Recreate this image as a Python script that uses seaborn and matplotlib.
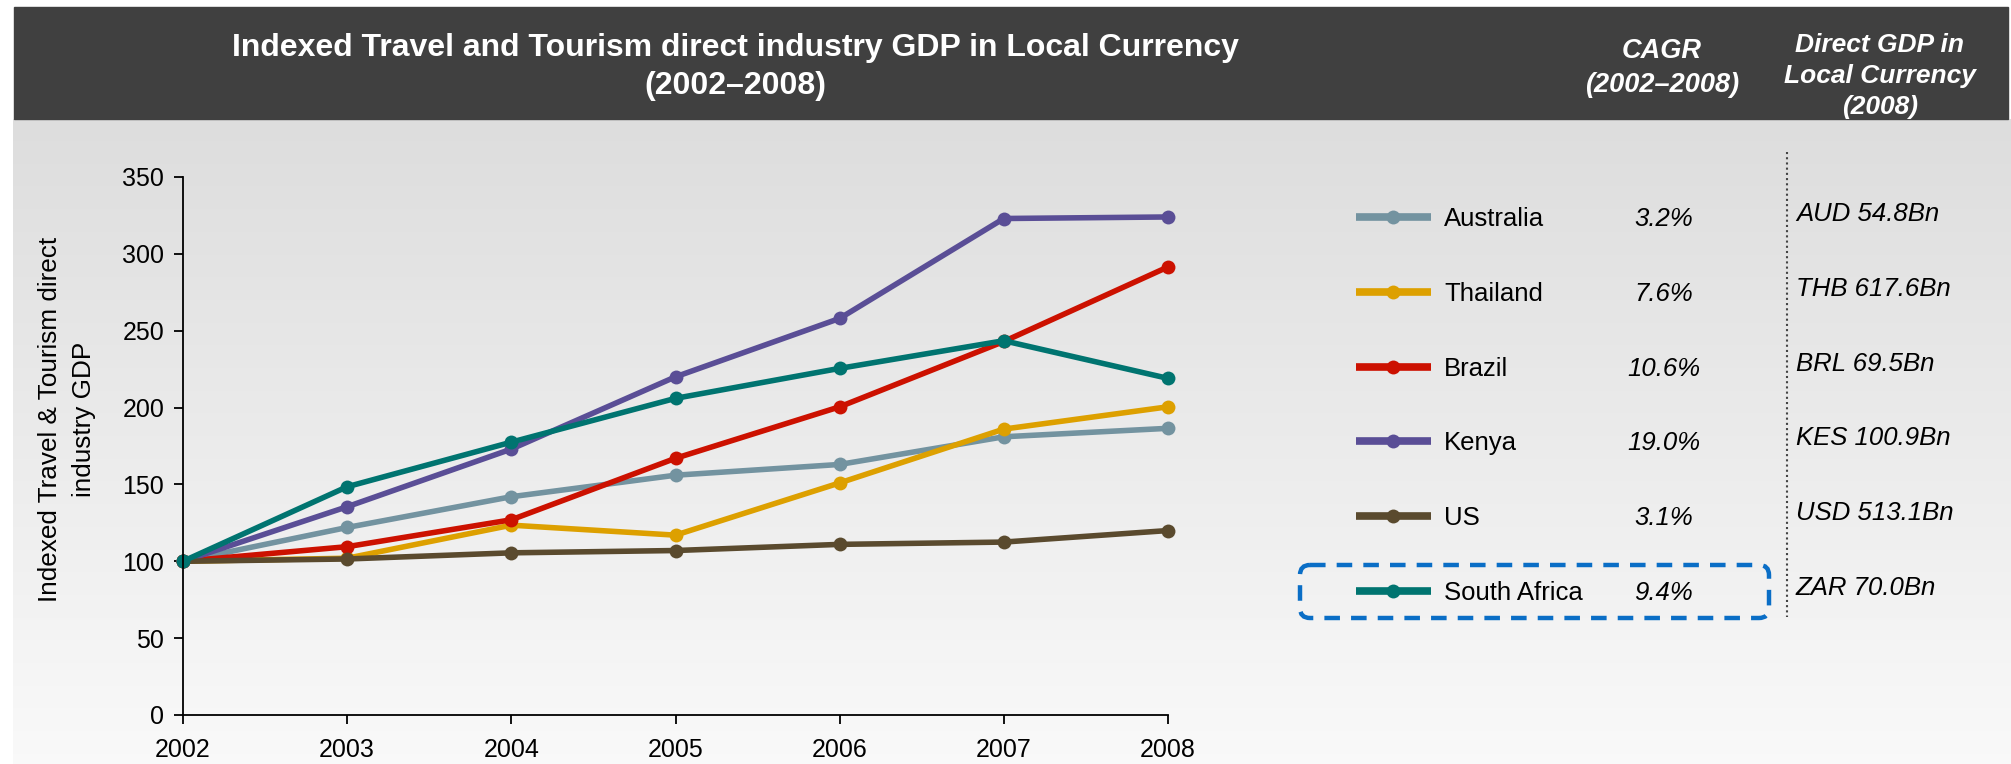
import numpy as np
import pandas as pd
import matplotlib
matplotlib.use("Agg")
import matplotlib.pyplot as plt
import seaborn as sns
from matplotlib.patches import Rectangle, FancyBboxPatch

# data
years = [2002, 2003, 2004, 2005, 2006, 2007, 2008]
countries = ["Australia", "Thailand", "Brazil", "Kenya", "US", "South Africa"]
australia = [100, 122, 142, 156, 163, 181, 186.5]
thailand = [100, 102, 123.5, 117, 151, 186, 200.5]
brazil = [100, 109.5, 127, 167, 200.5, 243, 291.5]
kenya = [100, 135.5, 173, 220, 258, 323, 324]
us = [100, 101.5, 105.5, 107, 111, 112.5, 120]
south_africa = [100, 148.5, 177.5, 206, 225.5, 243.5, 219]
cagr = ["3.2%", "7.6%", "10.6%", "19.0%", "3.1%", "9.4%"]
direct_gdp = ["AUD 54.8Bn", "THB 617.6Bn", "BRL 69.5Bn", "KES 100.9Bn",
              "USD 513.1Bn", "ZAR 70.0Bn"]
colors = ["#7393A0", "#DDA000", "#CC1100", "#5A4E96", "#5A4A2E", "#007470"]

series = [australia, thailand, brazil, kenya, us, south_africa]
df = pd.DataFrame({
    "year": years * len(countries),
    "value": [v for s in series for v in s],
    "country": [c for c in countries for _ in years],
})

sns.set_theme(style="white")
plt.rcParams["font.family"] = ["Liberation Sans", "DejaVu Sans"]

W, H = 2011, 764
fig = plt.figure(figsize=(W / 100, H / 100), dpi=100)

# background layer in pixel coordinates (y from the top)
bg = fig.add_axes([0, 0, 1, 1], zorder=0)
bg.axis("off")
grad = np.linspace(0.867, 0.978, 256)[:, None, None] * np.ones((1, 1, 3))
bg.imshow(grad, extent=[13, W, H, 119], aspect="auto", interpolation="bilinear")
bg.add_patch(Rectangle((14, 7), 1994, 112, color="#404040", zorder=2))
bg.set_xlim(0, W)
bg.set_ylim(H, 0)

bg.text(735, 67, "Indexed Travel and Tourism direct industry GDP in Local Currency\n(2002–2008)",
        ha="center", va="center", color="white", fontsize=23, fontweight="bold",
        linespacing=1.36, zorder=3)
bg.text(1662, 68, "CAGR\n(2002–2008)", ha="center", va="center", color="white",
        fontsize=19.5, fontweight="bold", fontstyle="italic", linespacing=1.45, zorder=3)
bg.text(1880, 76, "Direct GDP in\nLocal Currency\n(2008)", ha="center", va="center",
        color="white", fontsize=19, fontweight="bold", fontstyle="italic",
        linespacing=1.35, zorder=3)

# legend block with CAGR and direct GDP columns
row0, pitch = 217, 74.8
for i, name in enumerate(countries):
    y = row0 + i * pitch
    bg.plot([1356, 1431], [y, y], color=colors[i], lw=5.5, solid_capstyle="butt", zorder=3)
    bg.plot([1393.5], [y], "o", color=colors[i], ms=10, mew=0, zorder=4)
    bg.text(1444, y + 2, name, ha="left", va="center", fontsize=18.5, color="black", zorder=3)
    bg.text(1664, y + 2, cagr[i], ha="center", va="center", fontsize=18.5,
            fontstyle="italic", color="black", zorder=3)
    bg.text(1796, y - 3, direct_gdp[i], ha="left", va="center", fontsize=18.5,
            fontstyle="italic", color="black", zorder=3)

bg.plot([1787, 1787], [152, 617], color="#444444", lw=1.5, ls=(0, (1, 1.5)), zorder=3)
bg.add_patch(FancyBboxPatch((1300, 565), 469, 53,
                            boxstyle="round,pad=0,rounding_size=10",
                            fill=False, ec="#0A6EC6", lw=3.2,
                            ls=(0, (3.5, 2.5)), zorder=3))

# main chart
ax = fig.add_axes([183 / W, 1 - 715 / H, (1168 - 183) / W, (715 - 177) / H], zorder=2)
ax.patch.set_alpha(0)
sns.lineplot(data=df, x="year", y="value", hue="country", hue_order=countries,
             palette=colors, marker="o", markersize=10, markeredgewidth=0,
             linewidth=4, legend=False, ax=ax, clip_on=False)
ax.set_xlim(2002, 2008)
ax.set_ylim(0, 350)
ax.set_xticks(years)
ax.set_yticks(range(0, 351, 50))
ax.set_xlabel("")
ax.set_ylabel("")
for side in ["top", "right"]:
    ax.spines[side].set_visible(False)
for side in ["left", "bottom"]:
    ax.spines[side].set_color("black")
    ax.spines[side].set_linewidth(1.3)
ax.tick_params(axis="both", direction="out", length=6.5, width=1.3, color="black",
               labelsize=18, labelcolor="black", left=True, bottom=True)
ax.tick_params(axis="x", pad=10)
ax.tick_params(axis="y", pad=7)

fig.text(67 / W, 1 - 419 / H, "Indexed Travel & Tourism direct\nindustry GDP",
         rotation=90, ha="center", va="center", multialignment="center",
         fontsize=18.8, color="black", linespacing=1.5)

fig.savefig("out.png", dpi=100)
